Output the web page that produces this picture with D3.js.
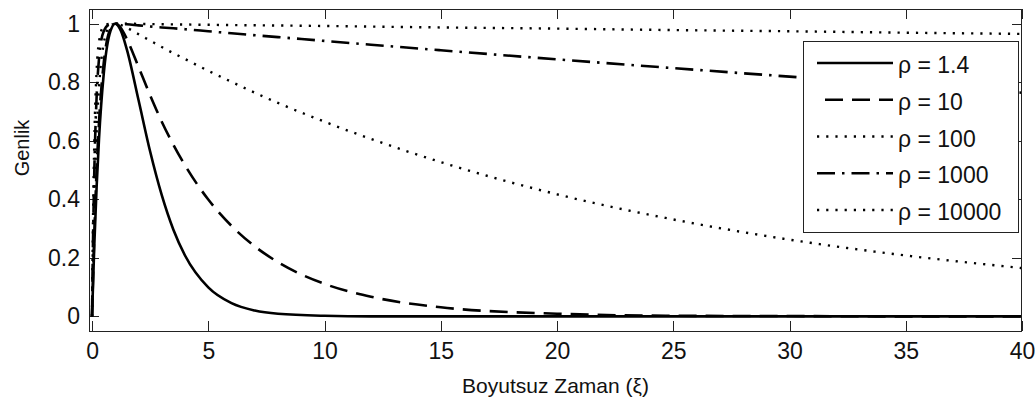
<!DOCTYPE html>
<html>
<head>
<meta charset="utf-8">
<script src="https://cdn.jsdelivr.net/npm/d3@7"></script>
<style>
  html, body { margin: 0; padding: 0; background: #fff; }
  svg { display: block; }
  text { font-family: "Liberation Sans", Arial, sans-serif; fill: #111; }
</style>
</head>
<body>
<svg id="chart" width="1035" height="403"></svg>
<script>
// ---------- data ----------
const xTicks = [0, 5, 10, 15, 20, 25, 30, 35, 40];
const yTicks = [0, 0.2, 0.4, 0.6, 0.8, 1];
const yTickLabels = ["0", "0.2", "0.4", "0.6", "0.8", "1"];

const seriesNames = ["ρ = 1.4", "ρ = 10", "ρ = 100", "ρ = 1000", "ρ = 10000"];

const xiRho14  = [0, 0.1, 0.2, 0.3, 0.5, 0.75, 1, 1.25, 1.5, 2, 2.5, 3, 3.5, 4, 5, 6, 7, 8, 10, 12, 15, 20, 25, 30, 35, 40];
const ampRho14 = [0, 0.247, 0.446, 0.605, 0.825, 0.963, 1, 0.974, 0.911, 0.739, 0.563, 0.414, 0.296, 0.208, 0.099, 0.045, 0.020, 0.009, 0.002, 0, 0, 0, 0, 0, 0, 0];

const xiRho10  = [0, 0.1, 0.2, 0.3, 0.5, 0.75, 1, 1.25, 1.5, 2, 2.5, 3, 3.5, 4, 5, 6, 7, 8, 10, 12, 15, 20, 25, 30, 35, 40];
const ampRho10 = [0, 0.288, 0.503, 0.663, 0.863, 0.974, 1, 0.984, 0.947, 0.852, 0.755, 0.665, 0.586, 0.516, 0.399, 0.309, 0.239, 0.185, 0.111, 0.067, 0.031, 0.009, 0.002, 0.001, 0, 0];

const xiRho100  = [0, 0.05, 0.1, 0.2, 0.3, 0.5, 0.75, 1, 1.25, 1.5, 2, 2.5, 3, 3.5, 4, 5, 6, 7, 8, 10, 12, 15, 20, 25, 30, 35, 40];
const ampRho100 = [0, 0.217, 0.389, 0.631, 0.781, 0.931, 0.990, 1, 0.995, 0.986, 0.964, 0.942, 0.920, 0.899, 0.879, 0.839, 0.801, 0.764, 0.729, 0.665, 0.606, 0.527, 0.417, 0.331, 0.262, 0.208, 0.165];

const xiRho1000  = [0, 0.02, 0.05, 0.1, 0.2, 0.3, 0.5, 0.75, 1, 1.25, 1.5, 2, 3, 4, 5, 6, 8, 10, 12, 15, 20, 25, 30, 35, 40];
const ampRho1000 = [0, 0.130, 0.294, 0.502, 0.754, 0.879, 0.973, 0.997, 1, 0.999, 0.998, 0.994, 0.987, 0.981, 0.974, 0.967, 0.954, 0.941, 0.928, 0.909, 0.878, 0.848, 0.819, 0.791, 0.764];

const xiRho10000  = [0, 0.01, 0.02, 0.05, 0.1, 0.2, 0.3, 0.5, 0.75, 1, 1.5, 2, 3, 5, 10, 15, 20, 25, 30, 35, 40];
const ampRho10000 = [0, 0.088, 0.168, 0.369, 0.603, 0.842, 0.938, 0.991, 0.999, 1, 1.000, 0.999, 0.998, 0.996, 0.992, 0.987, 0.983, 0.978, 0.974, 0.969, 0.965];

const xLabel = "Boyutsuz Zaman (ξ)";
const yLabel = "Genlik";

// ---------- layout ----------
const L = 89, R = 1022, T = 9, B = 331;
const svg = d3.select("#chart");

const x = d3.scaleLinear().domain([-0.13, 40]).range([L, R]);
const y = d3.scaleLinear().domain([-0.05, 1.05]).range([B, T]);

const styles = [
  { dash: null,          width: 2.6 },
  { dash: "18,9",        width: 2.6 },
  { dash: "2.2,7",       width: 2.4 },
  { dash: "18,7,2.5,7",  width: 2.6 },
  { dash: "2.2,7",       width: 2.4 }
];

const series = [
  [xiRho14, ampRho14],
  [xiRho10, ampRho10],
  [xiRho100, ampRho100],
  [xiRho1000, ampRho1000],
  [xiRho10000, ampRho10000]
].map((s, i) => ({ name: seriesNames[i], pts: s[0].map((v, j) => [v, s[1][j]]), style: styles[i] }));

// clip
svg.append("defs").append("clipPath").attr("id", "plotclip")
  .append("rect").attr("x", L).attr("y", T).attr("width", R - L).attr("height", B - T);

// axes (ticks inside, mirrored)
const fs = "23px";
const gx = svg.append("g").attr("transform", `translate(0,${B})`)
  .call(d3.axisBottom(x).tickValues(xTicks).tickSizeInner(-10).tickSizeOuter(0).tickPadding(12).tickFormat(d3.format("d")));
const gy = svg.append("g").attr("transform", `translate(${L},0)`)
  .call(d3.axisLeft(y).tickValues(yTicks).tickSizeInner(-10).tickSizeOuter(0).tickPadding(9)
    .tickFormat((d, i) => yTickLabels[i]));
const gt = svg.append("g").attr("transform", `translate(0,${T})`)
  .call(d3.axisTop(x).tickValues(xTicks).tickSizeInner(-10).tickSizeOuter(0).tickFormat(""));
const gr = svg.append("g").attr("transform", `translate(${R},0)`)
  .call(d3.axisRight(y).tickValues(yTicks).tickSizeInner(-10).tickSizeOuter(0).tickFormat(""));

[gx, gy, gt, gr].forEach(g => {
  g.select(".domain").remove();
  g.selectAll(".tick line").attr("stroke", "#222").attr("stroke-width", 1).attr("shape-rendering", "crispEdges");
  g.selectAll(".tick text").style("font-size", fs).style("font-family", "'Liberation Sans', Arial, sans-serif").attr("fill", "#111");
});

// curves
const line = d3.line().x(d => x(d[0])).y(d => y(d[1])).curve(d3.curveMonotoneX);
const plot = svg.append("g").attr("clip-path", "url(#plotclip)");
plot.selectAll("path.curve").data(series).join("path")
  .attr("class", "curve")
  .attr("d", d => line(d.pts))
  .attr("fill", "none")
  .attr("stroke", "#000")
  .attr("stroke-width", d => d.style.width)
  .attr("stroke-dasharray", d => d.style.dash);

// frame
svg.append("rect").attr("x", L + 0.5).attr("y", T + 0.5).attr("width", R - L - 1).attr("height", B - T)
  .attr("fill", "none").attr("stroke", "#222").attr("stroke-width", 1);

// axis labels
svg.append("text").attr("x", (L + R) / 2).attr("y", 393).attr("text-anchor", "middle")
  .style("font-size", "21px").text(xLabel);
svg.append("text").attr("transform", "translate(29,148) rotate(-90)").attr("text-anchor", "middle")
  .style("font-size", "20px").text(yLabel);

// legend
const lg = svg.append("g");
lg.append("rect").attr("x", 803.5).attr("y", 41.5).attr("width", 215).attr("height", 191)
  .attr("fill", "#fff").attr("stroke", "#222").attr("stroke-width", 1);
const rowY = d3.scaleLinear().domain([0, 4]).range([63, 210]);
const items = lg.selectAll("g.item").data(series).join("g").attr("class", "item")
  .attr("transform", (d, i) => `translate(0,${rowY(i)})`);
items.append("line").attr("x1", 817).attr("x2", 893).attr("y1", 0).attr("y2", 0)
  .attr("stroke", "#000").attr("stroke-width", d => d.style.width)
  .attr("stroke-dasharray", d => d.style.dash)
  .attr("stroke-dashoffset", (d, i) => i === 1 ? 19 : 0);
items.append("text").attr("x", 898).attr("y", 10).style("font-size", fs).text(d => d.name);
</script>
</body>
</html>
